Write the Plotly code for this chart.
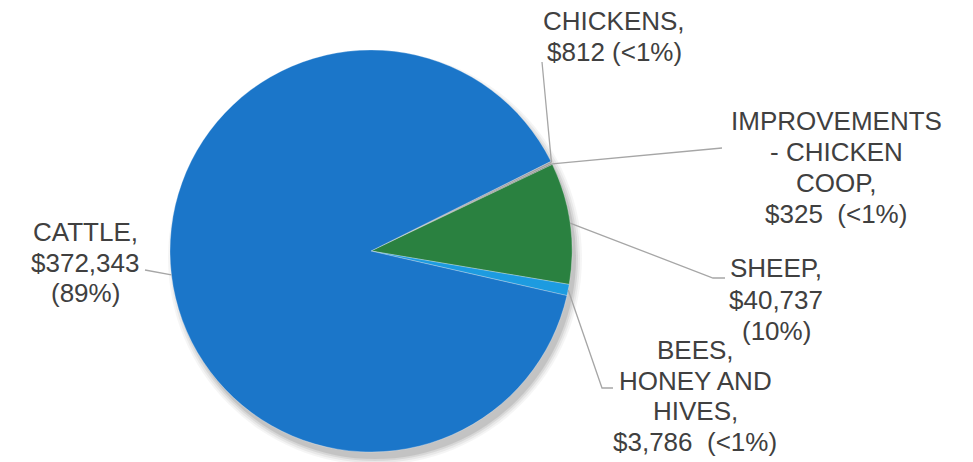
import math
import plotly.graph_objects as go

# ---- data ----
categories = ["CHICKENS", "IMPROVEMENTS - CHICKEN COOP", "SHEEP", "BEES, HONEY AND HIVES", "CATTLE"]
values = [812, 325, 40737, 3786, 372343]
label_lines = [
    ["CHICKENS,", "$812 (<1%)"],
    ["IMPROVEMENTS", "- CHICKEN", "COOP,", "$325  (<1%)"],
    ["SHEEP,", "$40,737", "(10%)"],
    ["BEES,", "HONEY AND", "HIVES,", "$3,786  (<1%)"],
    ["CATTLE,", "$372,343", "(89%)"],
]
colors = ["#a3a3a3", "#5e5e5e", "#2a8140", "#1d9be0", "#1b76c9"]

# ---- layout geometry (pixels) ----
W, H = 973, 462
CX, CY, R = 371, 251, 201
ROTATION = 63.5  # degrees clockwise from 12 o'clock

# label block centres (x, y of first line) and line spacing
label_pos = [(614, 21), (836, 121), (776, 268), (695, 350), (85, 232)]
line_step = [30.5, 31, 31.5, 30.7, 30.5]
# leader line knees/ends (pixel)
leader_ends = [
    [(542, 62)],
    [(722, 148)],
    [(713, 278), (725, 278)],
    [(602, 388), (613, 388)],
    [(145, 270)],
]


def px(x):
    return x / W


def py(y):
    return 1 - y / H


fig = go.Figure()
fig.add_trace(go.Pie(
    labels=categories,
    values=values,
    sort=False,
    direction="clockwise",
    rotation=ROTATION,
    textinfo="none",
    marker=dict(colors=colors, line=dict(color="rgba(255,255,255,0.35)", width=0.8)),
    domain=dict(x=[px(CX - R), px(CX + R)], y=[py(CY + R), py(CY - R)]),
    showlegend=False,
    hoverinfo="label+value+percent",
))

shapes = []
# soft shadow
for k, a in enumerate([0.04, 0.05, 0.07, 0.09]):
    rr = R + 6 - 2 * k
    ox, oy = 4, 7
    shapes.append(dict(type="circle", xref="paper", yref="paper", layer="below",
                       x0=px(CX + ox - rr), x1=px(CX + ox + rr),
                       y0=py(CY + oy + rr), y1=py(CY + oy - rr),
                       fillcolor=f"rgba(0,0,0,{a})", line=dict(width=0)))

# leader lines from slice mid-angle on the rim
total = sum(values)
cum = 0
for i, v in enumerate(values):
    mid = ROTATION + (cum + v / 2) / total * 360
    cum += v
    ang = math.radians(mid)
    sx = CX + R * math.sin(ang)
    sy = CY - R * math.cos(ang)
    pts = [(sx, sy)] + leader_ends[i]
    path = "M " + " L ".join(f"{px(x):.5f},{py(y):.5f}" for x, y in pts)
    shapes.append(dict(type="path", xref="paper", yref="paper", path=path,
                       line=dict(color="#a6a6a6", width=1.3)))

annotations = []
for i, lines in enumerate(label_lines):
    x0, y0 = label_pos[i]
    for j, t in enumerate(lines):
        annotations.append(dict(
            text=t, x=px(x0), y=py(y0 + j * line_step[i]), xref="paper", yref="paper",
            xanchor="center", yanchor="middle", showarrow=False,
            font=dict(family="Liberation Sans, Arial, sans-serif", size=26, color="#404040"),
        ))

fig.update_layout(
    width=W, height=H,
    margin=dict(l=0, r=0, t=0, b=0),
    paper_bgcolor="white", plot_bgcolor="white",
    shapes=shapes, annotations=annotations,
)

fig.write_html("out.html", config={"displayModeBar": False},
               post_script="document.body.style.margin='0';document.body.style.padding='0';")
